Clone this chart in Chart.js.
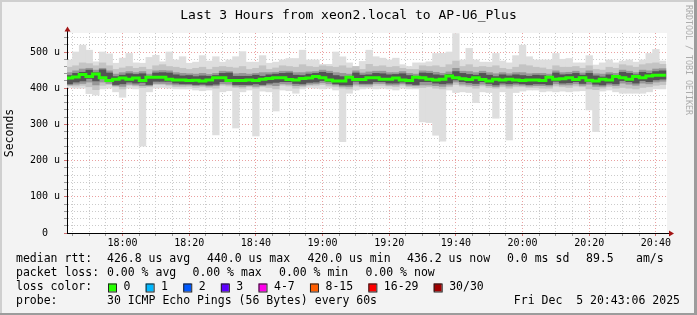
<!DOCTYPE html>
<html>
<head>
<meta charset="utf-8">
<title>smokeping AP-U6_Plus</title>
<script src="https://cdn.jsdelivr.net/npm/chart.js@4.4.1/dist/chart.umd.min.js"></script>
<style>
  html, body { margin: 0; padding: 0; background: #f3f3f3; }
  #wrap { width: 697px; height: 315px; }
  canvas { display: block; }
</style>
</head>
<body>
<div id="wrap"><canvas id="smoke" width="697" height="315"></canvas></div>
<script>
// 2-minute columns, first column starts 17:43 (minute of day)
const columnStart = 17 * 60 + 43;
const columnMinutes = 2;
const axisStart = 17 * 60 + 43 + 1 / 3;   // 17:43:20
const axisEnd = axisStart + 180;           // 20:43:20

// median rtt per column (microseconds)
const median = [
  423, 428, 431, 438, 432, 439, 429, 421, 425, 428, 425, 428, 421, 430, 430, 430, 425, 423,
  423, 421, 422, 420, 423, 429, 429, 421, 421, 421, 423, 421, 425, 427, 429, 429, 424, 423,
  427, 428, 432, 429, 423, 420, 420, 430, 424, 424, 429, 429, 425, 425, 428, 423, 421, 430,
  429, 425, 423, 425, 434, 429, 426, 424, 429, 424, 420, 425, 423, 425, 423, 421, 423, 423,
  421, 430, 425, 426, 429, 424, 429, 422, 420, 425, 423, 432, 429, 425, 432, 429, 434, 436
];
// slowest and fastest ping per column
const pingMax = [
  478, 500, 519, 505, 473, 500, 495, 469, 483, 496, 470, 469, 485, 491, 473, 500, 478, 487,
  469, 472, 490, 475, 487, 472, 478, 487, 501, 472, 472, 490, 469, 472, 478, 482, 482, 505,
  478, 478, 466, 466, 500, 487, 470, 460, 474, 505, 487, 483, 478, 483, 465, 460, 470, 470,
  473, 496, 496, 500, 551, 478, 510, 478, 472, 472, 496, 475, 470, 490, 519, 487, 478, 478,
  478, 496, 480, 482, 470, 470, 490, 464, 470, 478, 470, 475, 478, 472, 478, 496, 507, 475
];
const pingMin = [
  402, 400, 400, 385, 381, 398, 400, 390, 375, 400, 398, 240, 390, 400, 402, 400, 398, 398,
  398, 395, 393, 395, 271, 390, 393, 290, 390, 395, 268, 392, 390, 337, 395, 393, 386, 398,
  402, 400, 398, 400, 395, 252, 386, 395, 398, 400, 398, 400, 398, 395, 400, 398, 398, 307,
  305, 270, 254, 395, 388, 390, 388, 360, 390, 388, 317, 390, 257, 388, 392, 395, 395, 390,
  392, 390, 392, 390, 392, 393, 340, 280, 392, 395, 390, 386, 386, 386, 386, 390, 398, 398
];
// inner smoke layers (outer -> inner)
const upper2 = [
  458, 462, 470, 468, 462, 470, 462, 452, 456, 460, 455, 458, 452, 462, 465, 460, 458, 455,
  452, 455, 458, 452, 458, 460, 458, 456, 460, 452, 455, 462, 452, 456, 462, 460, 458, 465,
  460, 458, 462, 460, 458, 462, 456, 460, 452, 466, 460, 462, 458, 460, 455, 452, 452, 462,
  460, 462, 458, 465, 475, 460, 465, 458, 460, 458, 462, 455, 452, 458, 465, 462, 458, 456,
  452, 462, 458, 458, 460, 455, 462, 452, 450, 458, 455, 465, 462, 458, 465, 468, 470, 466
];
const lower2 = [
  408, 406, 408, 404, 396, 408, 410, 404, 398, 408, 406, 402, 404, 410, 410, 408, 404, 404,
  405, 402, 404, 402, 400, 408, 406, 402, 400, 404, 400, 404, 402, 398, 408, 406, 400, 404,
  408, 408, 410, 406, 404, 400, 398, 406, 404, 404, 408, 408, 406, 404, 408, 404, 402, 402,
  404, 400, 398, 404, 410, 406, 404, 400, 406, 402, 400, 404, 400, 404, 404, 402, 402, 400,
  400, 406, 404, 402, 406, 404, 398, 396, 400, 404, 400, 402, 400, 398, 402, 404, 408, 410
];
const upper3 = [
  443, 448, 453, 455, 450, 455, 448, 439, 443, 446, 443, 446, 439, 448, 449, 448, 443, 441,
  440, 439, 441, 438, 441, 447, 446, 440, 441, 439, 441, 443, 443, 444, 447, 447, 443, 443,
  445, 446, 450, 447, 443, 441, 439, 448, 442, 445, 447, 447, 443, 443, 446, 441, 439, 448,
  447, 444, 441, 445, 455, 447, 446, 443, 447, 443, 440, 443, 440, 443, 443, 440, 441, 441,
  439, 448, 443, 444, 447, 442, 448, 440, 439, 443, 441, 450, 447, 443, 450, 448, 453, 454
];
const lower3 = [
  409, 411, 413, 417, 409, 417, 413, 407, 405, 411, 409, 407, 407, 413, 413, 411, 409, 409,
  409, 407, 408, 406, 407, 412, 411, 406, 405, 407, 405, 407, 409, 407, 412, 411, 407, 408,
  411, 412, 415, 412, 409, 405, 404, 411, 409, 409, 413, 413, 409, 409, 412, 408, 407, 409,
  409, 407, 405, 409, 417, 411, 409, 407, 411, 407, 404, 409, 406, 409, 408, 406, 407, 407,
  406, 412, 409, 409, 412, 408, 411, 405, 405, 409, 407, 414, 411, 408, 414, 412, 417, 419
];
const upper4 = [
  435, 441, 444, 450, 443, 451, 442, 432, 436, 440, 438, 440, 433, 442, 443, 442, 437, 434,
  435, 432, 434, 433, 435, 441, 442, 433, 433, 433, 436, 433, 437, 439, 441, 442, 436, 435,
  439, 441, 444, 441, 435, 432, 431, 442, 436, 437, 441, 440, 437, 438, 440, 435, 433, 442,
  441, 437, 435, 438, 446, 441, 438, 436, 441, 436, 432, 437, 434, 437, 435, 433, 436, 435,
  433, 442, 437, 438, 441, 436, 441, 434, 431, 437, 435, 444, 441, 437, 444, 441, 446, 448
];
const lower4 = [
  412, 417, 420, 427, 420, 428, 419, 410, 412, 417, 414, 416, 410, 419, 419, 419, 414, 412,
  412, 410, 411, 409, 411, 418, 418, 410, 410, 410, 412, 410, 414, 416, 418, 418, 413, 412,
  416, 417, 421, 418, 412, 409, 409, 419, 413, 413, 418, 418, 414, 414, 417, 412, 410, 418,
  418, 414, 412, 414, 423, 418, 415, 413, 418, 413, 409, 414, 412, 414, 412, 410, 412, 412,
  410, 419, 414, 415, 418, 413, 418, 411, 409, 414, 412, 421, 418, 414, 421, 418, 423, 425
];

const yTickValues = [0, 100, 200, 300, 400, 500];
const yTickLabels = ['0  ', '100 u', '200 u', '300 u', '400 u', '500 u'];
const xTickLabels = ['18:00', '18:20', '18:40', '19:00', '19:20', '19:40', '20:00', '20:20', '20:40'];

const titleText = 'Last 3 Hours from xeon2.local to AP-U6_Plus';
const rttStats = ['426.8 us avg', '440.0 us max', '420.0 us min', '436.2 us now', '0.0 ms sd', '89.5', 'am/s'];
const lossStats = ['0.00 % avg', '0.00 % max', '0.00 % min', '0.00 % now'];
const lossLabels = ['0', '1', '2', '3', '4-7', '8-15', '16-29', '30/30'];
const lossColors = ['#26ff00', '#00b8ff', '#0059ff', '#5e00ff', '#ff00ea', '#ff5e00', '#ff0000', '#a10000'];
const probeText = '30 ICMP Echo Pings (56 Bytes) every 60s';
const stampText = 'Fri Dec  5 20:43:06 2025';

const MONO = '"DejaVu Sans Mono", monospace';
const toMinute = s => { const [h, m] = s.split(':').map(Number); return h * 60 + m; };
const majorMinutes = xTickLabels.map(toMinute);
const columnX = median.map((_, i) => columnStart + columnMinutes * (i + 0.5));
const band = (lo, hi) => lo.map((v, i) => ({ x: columnX[i], y: [v, hi[i]] }));
const medianLine = median.map((v, i) => ({ x: columnStart + columnMinutes * i, y: v }))
  .concat([{ x: columnStart + columnMinutes * median.length, y: median[median.length - 1] }]);

const barStyle = { type: 'bar', grouped: false, barPercentage: 1, categoryPercentage: 1, borderWidth: 0 };

const redGrid = '#eaa0a0';
const greyGrid = '#cbcbcb';

// background, legend block, arrows and frame, drawn like rrdtool does
const rrdFrame = {
  id: 'rrdFrame',
  beforeDraw(chart) {
    const { ctx, chartArea: a } = chart;
    ctx.save();
    ctx.fillStyle = '#f3f3f3';
    ctx.fillRect(0, 0, chart.width, chart.height);
    ctx.fillStyle = '#ffffff';
    ctx.fillRect(a.left, a.top, a.right - a.left, a.bottom - a.top);
    ctx.restore();
  },
  afterDraw(chart) {
    const { ctx, chartArea: a } = chart;
    ctx.save();

    // axis extensions + arrows
    ctx.strokeStyle = '#000';
    ctx.lineWidth = 1;
    ctx.beginPath();
    ctx.moveTo(a.right, a.bottom + 0.5); ctx.lineTo(a.right + 3, a.bottom + 0.5);
    ctx.moveTo(a.left + 0.5, a.top); ctx.lineTo(a.left + 0.5, a.top - 3);
    ctx.stroke();
    ctx.fillStyle = '#a31515';
    ctx.beginPath();
    ctx.moveTo(a.right + 2, a.bottom - 2.5); ctx.lineTo(a.right + 7, a.bottom + 0.5); ctx.lineTo(a.right + 2, a.bottom + 3.5);
    ctx.closePath(); ctx.fill();
    ctx.beginPath();
    ctx.moveTo(a.left - 2.5, a.top - 1.5); ctx.lineTo(a.left + 0.5, a.top - 6.5); ctx.lineTo(a.left + 3.5, a.top - 1.5);
    ctx.closePath(); ctx.fill();

    // title
    ctx.fillStyle = '#000';
    ctx.font = '13px ' + MONO;
    ctx.textAlign = 'center';
    ctx.textBaseline = 'alphabetic';
    ctx.fillText(titleText, chart.width / 2, 18.5);

    // vertical axis title
    ctx.save();
    ctx.font = '11.5px ' + MONO;
    ctx.translate(10.5, 133);
    ctx.rotate(-Math.PI / 2);
    ctx.textBaseline = 'middle';
    ctx.fillText('Seconds', 0, 0);
    ctx.restore();

    // watermark
    ctx.save();
    ctx.fillStyle = '#acacac';
    ctx.font = '8.3px ' + MONO;
    ctx.translate(688.5, 5);
    ctx.rotate(Math.PI / 2);
    ctx.textAlign = 'left';
    ctx.textBaseline = 'middle';
    ctx.fillText('RRDTOOL / TOBI OETIKER', 0, 0);
    ctx.restore();

    // legend block
    ctx.font = '11.5px ' + MONO;
    ctx.textAlign = 'left';
    ctx.textBaseline = 'middle';
    ctx.fillStyle = '#000';
    const rows = [259.5, 273.5, 287.5, 301.5];
    ctx.fillText('median rtt:', 16, rows[0]);
    [107, 207, 307.5, 407, 507, 586, 636].forEach((x, i) => ctx.fillText(rttStats[i], x, rows[0]));
    ctx.fillText('packet loss:', 16, rows[1]);
    [107, 192.5, 279, 365.5].forEach((x, i) => ctx.fillText(lossStats[i], x, rows[1]));
    ctx.fillText('loss color:', 16, rows[2]);
    let x = 108;
    lossLabels.forEach((label, i) => {
      ctx.fillStyle = lossColors[i];
      ctx.fillRect(x, rows[2] - 4, 8, 8);
      ctx.strokeStyle = '#222';
      ctx.strokeRect(x + 0.5, rows[2] - 3.5, 8, 8);
      ctx.fillStyle = '#000';
      ctx.fillText(label, x + 15.5, rows[2]);
      x += 15.5 + ctx.measureText(label).width + 15.2;
    });
    ctx.fillText('probe:', 16, rows[3]);
    ctx.fillText(probeText, 107, rows[3]);
    ctx.textAlign = 'right';
    ctx.fillText(stampText, 680, rows[3]);

    // frame shading
    ctx.fillStyle = '#cfcfcf';
    ctx.fillRect(0, 0, chart.width, 2);
    ctx.fillRect(0, 0, 2, chart.height);
    ctx.fillStyle = '#9c9c9c';
    ctx.fillRect(0, chart.height - 2, chart.width, 2);
    ctx.fillRect(chart.width - 3, 0, 3, chart.height);
    ctx.restore();
  }
};

new Chart(document.getElementById('smoke'), {
  type: 'bar',
  data: {
    datasets: [
      { type: 'line', label: 'median rtt', data: medianLine, stepped: 'after', borderColor: lossColors[0],
        borderWidth: 3, pointRadius: 0, fill: false, order: 0 },
      { ...barStyle, label: 'smoke 4', data: band(lower4, upper4), backgroundColor: '#545454', order: 1 },
      { ...barStyle, label: 'smoke 3', data: band(lower3, upper3), backgroundColor: '#979797', order: 2 },
      { ...barStyle, label: 'smoke 2', data: band(lower2, upper2), backgroundColor: '#c4c4c4', order: 3 },
      { ...barStyle, label: 'smoke 1', data: band(pingMin, pingMax), backgroundColor: '#dedede', order: 4 }
    ]
  },
  options: {
    responsive: false,
    devicePixelRatio: 1,
    animation: false,
    events: [],
    layout: { padding: { left: 0, top: 33, right: 30, bottom: 62 } },
    plugins: {
      legend: { display: false },
      title: { display: false },
      tooltip: { enabled: false }
    },
    scales: {
      x: {
        type: 'linear',
        min: axisStart,
        max: axisEnd,
        offset: false,
        afterBuildTicks: scale => {
          const ticks = [];
          for (let m = Math.ceil(axisStart / 5) * 5; m <= axisEnd; m += 5) ticks.push({ value: m });
          scale.ticks = ticks;
        },
        afterFit: scale => { scale.height = 20; },
        ticks: {
          autoSkip: false,
          maxRotation: 0,
          padding: 1,
          color: '#000',
          font: { family: MONO, size: 10 },
          callback: v => {
            const i = majorMinutes.indexOf(v);
            return i >= 0 ? xTickLabels[i] : '';
          }
        },
        grid: {
          offset: false,
          color: c => majorMinutes.includes(c.tick && c.tick.value) ? redGrid : greyGrid,
          tickColor: c => majorMinutes.includes(c.tick && c.tick.value) ? '#d07070' : '#999',
          tickLength: 3
        },
        border: { color: '#000', dash: [1, 2] }
      },
      y: {
        min: 0,
        max: 552.5,
        afterBuildTicks: scale => {
          const ticks = [];
          for (let v = 0; v <= 540; v += 20) ticks.push({ value: v });
          scale.ticks = ticks;
        },
        afterFit: scale => { scale.width = 67; },
        ticks: {
          autoSkip: false,
          padding: 4,
          color: '#000',
          font: { family: MONO, size: 10 },
          callback: v => {
            const i = yTickValues.indexOf(v);
            return i >= 0 ? yTickLabels[i] : '';
          }
        },
        grid: {
          color: c => yTickValues.includes(c.tick && c.tick.value) ? redGrid : greyGrid,
          tickColor: c => yTickValues.includes(c.tick && c.tick.value) ? '#d07070' : '#999',
          tickLength: 3
        },
        border: { color: '#000', dash: [1, 2] }
      }
    }
  },
  plugins: [rrdFrame]
});
</script>
</body>
</html>
